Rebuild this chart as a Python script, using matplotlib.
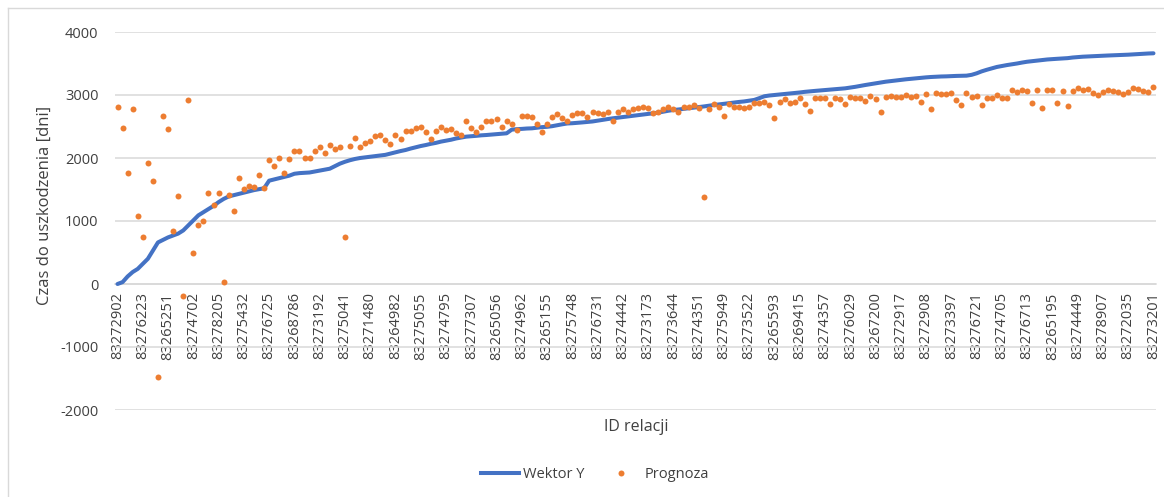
import matplotlib
matplotlib.use("Agg")
import matplotlib.pyplot as plt
from matplotlib.lines import Line2D

plt.rcParams['font.family'] = ['Open Sans', 'DejaVu Sans']
plt.rcParams['axes.unicode_minus'] = False

# every 5th relation ID is labelled on the category axis
tick_labels = [
    "83272902", "83276223", "83265251", "83274702", "83278205", "83275432",
    "83276725", "83268786", "83273192", "83275041", "83271480", "83264982",
    "83275055", "83274795", "83277307", "83265056", "83274962", "83265155",
    "83275748", "83276731", "83274442", "83273173", "83273644", "83274351",
    "83275949", "83273522", "83265593", "83269415", "83274357", "83276029",
    "83267200", "83272917", "83272908", "83273397", "83276721", "83274705",
    "83276713", "83265195", "83274449", "83278907", "83272035", "83273201",
]
label_step = 5

# Wektor Y (sorted target values, days)
wektor_y = [
    0, 30, 120, 190, 240, 320, 400, 530, 660, 700,
    740, 770, 800, 850, 930, 1010, 1090, 1140, 1190, 1240,
    1300, 1350, 1390, 1410, 1430, 1450, 1470, 1490, 1505, 1520,
    1640, 1660, 1680, 1700, 1720, 1750, 1760, 1765, 1770, 1785,
    1800, 1815, 1830, 1870, 1910, 1940, 1965, 1985, 2000, 2010,
    2020, 2030, 2040, 2050, 2070, 2090, 2110, 2127, 2150, 2170,
    2190, 2206, 2225, 2240, 2260, 2275, 2290, 2310, 2325, 2339,
    2345, 2352, 2360, 2365, 2372, 2380, 2386, 2392, 2450, 2458,
    2462, 2468, 2471, 2480, 2490, 2495, 2505, 2520, 2535, 2548,
    2552, 2558, 2565, 2572, 2580, 2593, 2605, 2618, 2630, 2640,
    2650, 2660, 2670, 2680, 2690, 2700, 2709, 2720, 2735, 2750,
    2762, 2770, 2780, 2790, 2799, 2808, 2818, 2830, 2841, 2850,
    2860, 2870, 2880, 2890, 2898, 2910, 2922, 2950, 2980, 2992,
    3000, 3008, 3016, 3024, 3032, 3040, 3050, 3058, 3065, 3072,
    3079, 3086, 3092, 3099, 3106, 3118, 3130, 3145, 3159, 3172,
    3185, 3198, 3211, 3220, 3230, 3240, 3249, 3257, 3265, 3272,
    3280, 3286, 3290, 3294, 3296, 3300, 3303, 3305, 3307, 3320,
    3344, 3375, 3400, 3423, 3445, 3460, 3475, 3487, 3500, 3515,
    3528, 3537, 3546, 3555, 3564, 3570, 3575, 3580, 3585, 3595,
    3602, 3608, 3612, 3616, 3620, 3624, 3627, 3630, 3632, 3635,
    3640, 3645, 3651, 3655, 3659, 3662,
]

# Prognoza (model prediction, days)
prognoza = [
    2814, 2471, 1757, 2772, 1079, 746, 1926, 1640, -1470, 2672,
    2455, 836, 1397, -185, 2915, 492, 931, 1000, 1439, 1249,
    1439, 32, 1413, 1164, 1683, 1508, 1556, 1540, 1725, 1524,
    1968, 1878, 2000, 1767, 1984, 2111, 2111, 2000, 2000, 2116,
    2169, 2085, 2200, 2137, 2169, 746, 2190, 2312, 2180, 2233,
    2275, 2354, 2365, 2286, 2222, 2365, 2302, 2429, 2429, 2471,
    2487, 2418, 2297, 2429, 2497, 2444, 2466, 2402, 2360, 2592,
    2471, 2418, 2487, 2592, 2592, 2619, 2497, 2587, 2540, 2444,
    2667, 2667, 2650, 2540, 2407, 2534, 2646, 2698, 2630, 2593,
    2683, 2720, 2709, 2651, 2735, 2709, 2693, 2735, 2587, 2725,
    2778, 2725, 2772, 2788, 2804, 2788, 2709, 2735, 2778, 2804,
    2778, 2725, 2804, 2804, 2841, 2788, 1381, 2772, 2852, 2804,
    2667, 2852, 2815, 2815, 2788, 2815, 2878, 2868, 2894, 2841,
    2640, 2894, 2931, 2868, 2894, 2947, 2857, 2746, 2947, 2947,
    2958, 2857, 2947, 2931, 2857, 2963, 2958, 2947, 2905, 2984,
    2931, 2735, 2973, 2984, 2963, 2963, 3000, 2973, 2984, 2884,
    3011, 2772, 3037, 3016, 3010, 3037, 2921, 2841, 3037, 2973,
    2984, 2841, 2958, 2958, 3000, 2947, 2947, 3079, 3053, 3079,
    3063, 2878, 3079, 2799, 3079, 3079, 2878, 3063, 2825, 3063,
    3116, 3079, 3090, 3037, 3000, 3053, 3079, 3069, 3053, 3016,
    3053, 3116, 3090, 3063, 3053, 3132,
]

blue = '#4472C4'
orange = '#ED7D31'
grid = '#D9D9D9'
txt = '#404040'

W, H = 1164, 497
fig = plt.figure(figsize=(W / 100, H / 100), dpi=100)
ax = fig.add_axes([115 / W, 1 - 410 / H, (1156 - 115) / W, (410 - 32) / H])

# category axis sits on the zero line (set before ticks: it resets them)
for s in ['top', 'right', 'left']:
    ax.spines[s].set_visible(False)
ax.spines['bottom'].set_position(('data', 0))
ax.spines['bottom'].set_color(grid)
ax.spines['bottom'].set_linewidth(1.1)
ax.spines['bottom'].set_zorder(1)

idx = list(range(len(wektor_y)))
ax.plot(idx, wektor_y, color=blue, lw=2.9, solid_capstyle='round', zorder=3)
ax.plot(idx, prognoza, ls='none', marker='o', ms=4.3, color=orange,
        markeredgewidth=0, zorder=4)

ax.set_xlim(-0.5, len(idx) - 0.5)
ax.set_ylim(-2000, 4000)
ax.set_yticks(range(-2000, 4001, 1000))
ax.yaxis.grid(True, color=grid, lw=1.1)
ax.set_axisbelow(True)

ax.set_xticks(idx[::label_step])
ax.set_xticklabels(tick_labels, rotation=90, fontsize=10.5, color=txt)
ax.tick_params(axis='x', length=0, pad=6)
ax.tick_params(axis='y', length=0, pad=12, labelsize=10.5, labelcolor=txt)

fig.text(45 / W, 1 - 205 / H, 'Czas do uszkodzenia [dni]', rotation=90,
         ha='center', va='center', fontsize=12, color=txt)
fig.text(636 / W, 1 - 427 / H, 'ID relacji', ha='center', va='center',
         fontsize=11.5, color=txt)

handles = [
    Line2D([], [], color=blue, lw=2.9),
    Line2D([], [], ls='none', marker='o', ms=4.3, color=orange, markeredgewidth=0),
]
fig.legend(handles, ['Wektor Y', 'Prognoza'], loc='center', ncol=2,
           bbox_to_anchor=(595 / W, 1 - 475 / H), frameon=False, fontsize=10.5,
           labelcolor=txt, handlelength=2.6, handletextpad=0.3, columnspacing=1.2)

# chart frame (light border like the spreadsheet chart area)
fig.add_artist(Line2D([8 / W, 8 / W], [0, 1 - 8 / H], color=grid, lw=1))
fig.add_artist(Line2D([8 / W, 1], [1 - 8 / H, 1 - 8 / H], color=grid, lw=1))

fig.savefig('out.png', dpi=100)
